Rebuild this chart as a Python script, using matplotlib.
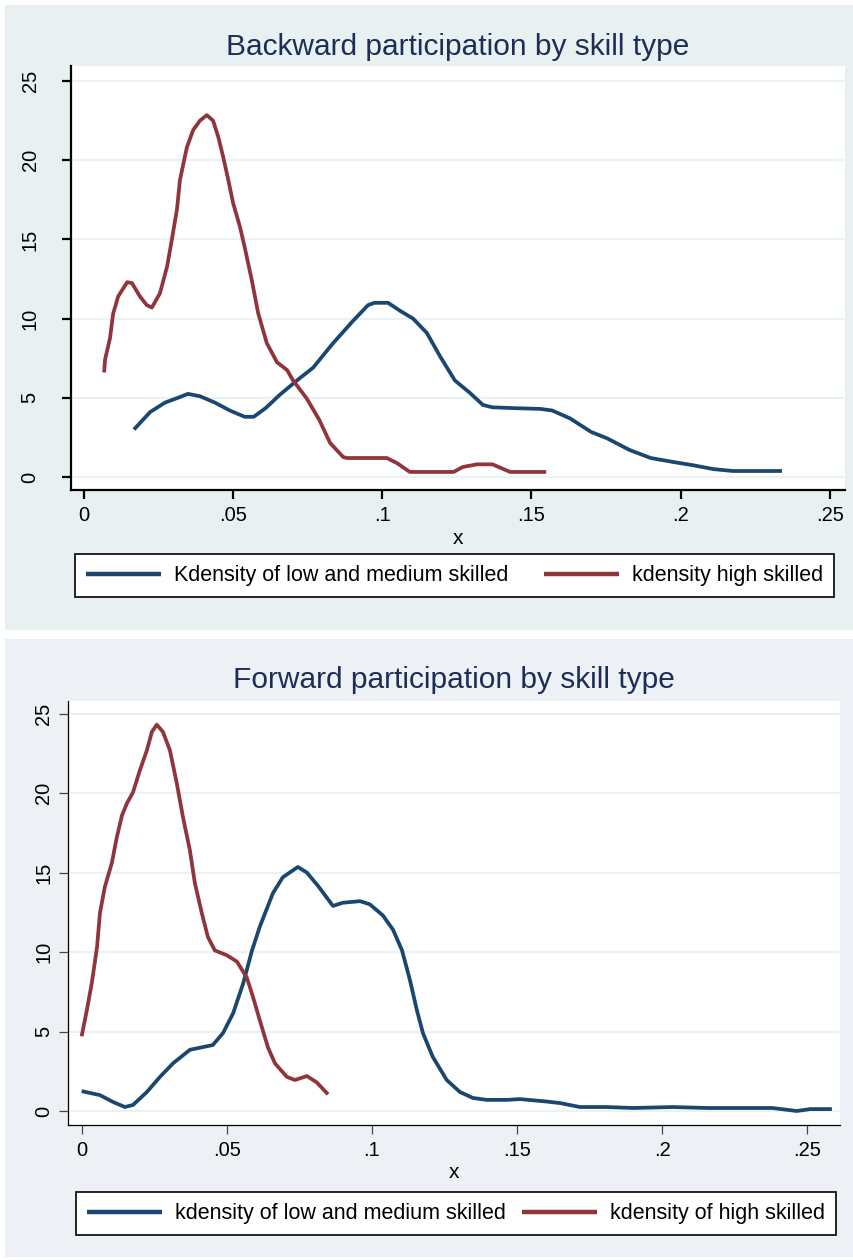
import matplotlib
matplotlib.use("Agg")
import matplotlib.pyplot as plt
from matplotlib.patches import Rectangle
from matplotlib import font_manager

# ---- data: kernel density estimates, backward participation ----
bwd_low_x = [0.0169, 0.0223, 0.0273, 0.0323, 0.0350, 0.0390, 0.0440, 0.0490, 0.0540,
             0.0570, 0.0610, 0.0658, 0.0725, 0.0769, 0.0836, 0.0900, 0.0953, 0.0975,
             0.1020, 0.1060, 0.1104, 0.1150, 0.1195, 0.1244, 0.1295, 0.1338, 0.1370,
             0.1440, 0.1530, 0.1570, 0.1630, 0.1700, 0.1753, 0.1830, 0.1900, 0.1975,
             0.2040, 0.2110, 0.2175, 0.2340]
bwd_low_y = [3.0, 4.1, 4.7, 5.05, 5.25, 5.1, 4.7, 4.2, 3.8,
             3.8, 4.35, 5.2, 6.25, 6.9, 8.45, 9.8, 10.85, 11.0,
             11.0, 10.5, 10.0, 9.1, 7.6, 6.1, 5.3, 4.55, 4.4,
             4.35, 4.3, 4.2, 3.7, 2.85, 2.45, 1.7, 1.2, 0.95,
             0.75, 0.5, 0.38, 0.38]

bwd_high_x = [0.0069, 0.0072, 0.0089, 0.0099, 0.0116, 0.0146, 0.0162, 0.0189, 0.0212,
              0.0229, 0.0256, 0.0280, 0.0296, 0.0313, 0.0323, 0.0346, 0.0367, 0.0390,
              0.0413, 0.0434, 0.0451, 0.0468, 0.0485, 0.0501, 0.0524, 0.0540, 0.0564,
              0.0585, 0.0614, 0.0648, 0.0682, 0.0702, 0.0748, 0.0790, 0.0826, 0.0870,
              0.0882, 0.1016, 0.1050, 0.1093, 0.1240, 0.1270, 0.1318, 0.1370, 0.1429,
              0.1550]
bwd_high_y = [6.6, 7.4, 8.8, 10.3, 11.4, 12.3, 12.25, 11.4, 10.85,
              10.7, 11.6, 13.3, 15.0, 16.9, 18.75, 20.8, 21.9, 22.5,
              22.85, 22.5, 21.5, 20.2, 18.75, 17.3, 15.8, 14.5, 12.4,
              10.35, 8.45, 7.25, 6.75, 6.1, 4.95, 3.6, 2.15, 1.26,
              1.2, 1.2, 0.88, 0.32, 0.32, 0.63, 0.8, 0.8, 0.32,
              0.32]

# ---- data: kernel density estimates, forward participation ----
fwd_low_x = [0.0000, 0.0063, 0.0108, 0.0149, 0.0177, 0.0225, 0.0270, 0.0315, 0.0373,
             0.0452, 0.0487, 0.0522, 0.0557, 0.0587, 0.0614, 0.0659, 0.0693, 0.0745,
             0.0776, 0.0815, 0.0866, 0.0900, 0.0959, 0.0993, 0.1038, 0.1073, 0.1104,
             0.1131, 0.1155, 0.1176, 0.1210, 0.1258, 0.1303, 0.1348, 0.1396, 0.1465,
             0.1510, 0.1600, 0.1648, 0.1717, 0.1810, 0.1900, 0.2038, 0.2155, 0.2380,
             0.2464, 0.2510, 0.2585]
fwd_low_y = [1.25, 1.0, 0.57, 0.25, 0.38, 1.2, 2.15, 3.0, 3.85,
             4.15, 4.9, 6.15, 8.05, 10.1, 11.6, 13.7, 14.7, 15.35,
             15.0, 14.15, 12.9, 13.1, 13.2, 13.0, 12.3, 11.4, 10.1,
             8.25, 6.35, 4.9, 3.4, 1.95, 1.2, 0.82, 0.7, 0.7,
             0.75, 0.6, 0.5, 0.25, 0.25, 0.19, 0.25, 0.19, 0.19,
             0.0, 0.12, 0.12]

fwd_high_x = [0.0000, 0.0018, 0.0035, 0.0053, 0.0063, 0.0080, 0.0104, 0.0121, 0.0139,
              0.0156, 0.0177, 0.0201, 0.0225, 0.0242, 0.0259, 0.0280, 0.0304, 0.0328,
              0.0349, 0.0373, 0.0390, 0.0414, 0.0435, 0.0459, 0.0500, 0.0535, 0.0569,
              0.0590, 0.0614, 0.0642, 0.0666, 0.0707, 0.0735, 0.0776, 0.0810, 0.0849]
fwd_high_y = [4.7, 6.35, 8.05, 10.3, 12.45, 14.1, 15.6, 17.2, 18.6,
              19.35, 20.05, 21.45, 22.7, 23.85, 24.3, 23.85, 22.7, 20.6,
              18.5, 16.4, 14.35, 12.45, 10.95, 10.1, 9.8, 9.4, 8.4,
              7.2, 5.7, 4.0, 3.0, 2.15, 1.95, 2.2, 1.8, 1.05]

x_ticks = [0, 0.05, 0.10, 0.15, 0.20, 0.25]
x_tick_labels = ["0", ".05", ".1", ".15", ".2", ".25"]
y_ticks = [0, 5, 10, 15, 20, 25]
y_tick_labels = ["0", "5", "10", "15", "20", "25"]

NAVY = "#1a476f"
MAROON = "#90353b"
GRID = "#eaf2f3"
TITLE = "#1e2d55"

installed = {f.name for f in font_manager.fontManager.ttflist}
FONT = "Liberation Sans Narrow" if "Liberation Sans Narrow" in installed else "Liberation Sans"
plt.rcParams["font.family"] = [FONT, "DejaVu Sans"]

W, H = 854, 1260
fig = plt.figure(figsize=(W / 100, H / 100), dpi=100, facecolor="white")


def fx(px):
    return px / W


def fy(py):
    return 1 - py / H


def panel(bg, box, ax_box, xlim, ylim, title, title_y, xlabel_y, series, legend_box,
          axis_lw, tick_color, ypad):
    x0, y0, x1, y1 = box
    fig.patches.append(Rectangle((fx(x0), fy(y1)), fx(x1 - x0), (y1 - y0) / H,
                                 transform=fig.transFigure, facecolor=bg,
                                 edgecolor="none", zorder=-5))
    l, t, r, b = ax_box
    ax = fig.add_axes([fx(l), fy(b), fx(r - l), (b - t) / H])
    ax.set_zorder(2)
    ax.set_facecolor("white")
    ax.set_xlim(*xlim)
    ax.set_ylim(*ylim)
    for yv in y_ticks:
        ax.axhline(yv, color=GRID, lw=1.6, zorder=1)
    handles = []
    for xs, ys, col, lab in series:
        h, = ax.plot(xs, ys, color=col, lw=2.7, solid_capstyle="butt",
                     solid_joinstyle="round", zorder=3, label=lab)
        handles.append(h)
    ax.set_xticks(x_ticks)
    ax.set_xticklabels(x_tick_labels)
    ax.set_yticks(y_ticks)
    ax.set_yticklabels(y_tick_labels, rotation=90, va="center")
    ax.tick_params(axis="both", direction="out", length=6.5, width=axis_lw,
                   color=tick_color, labelsize=14.5, labelcolor="black")
    ax.tick_params(axis="x", pad=5)
    ax.tick_params(axis="y", pad=ypad)
    for s in ("top", "right"):
        ax.spines[s].set_visible(False)
    for s in ("left", "bottom"):
        ax.spines[s].set_color("black")
        ax.spines[s].set_linewidth(axis_lw)
    fig.text(fx((l + r) / 2), fy(title_y), title, ha="center", va="center",
             fontsize=21.5, color=TITLE)
    fig.text(fx((l + r) / 2), fy(xlabel_y), "x", ha="center", va="center",
             fontsize=15, color="black")
    lx0, ly0, lx1, ly1 = legend_box
    leg = fig.legend(handles=handles, loc="lower left", ncol=2, mode="expand",
                     bbox_to_anchor=(fx(lx0), fy(ly1), fx(lx1 - lx0), (ly1 - ly0) / H),
                     bbox_transform=fig.transFigure, frameon=True, fancybox=False,
                     edgecolor="black", framealpha=1, fontsize=15.5,
                     handlelength=3.5, handletextpad=0.6, borderaxespad=0,
                     borderpad=0.5)
    leg.get_frame().set_linewidth(1.2)
    for ln in leg.get_lines():
        ln.set_linewidth(3.2)
    return ax


panel("#e8f0f2", (5, 5, 854, 630), (71, 66, 845, 490),
      (-0.0042, 0.2551), (-0.82, 25.95),
      "Backward participation by skill type", 47, 538,
      [(bwd_low_x, bwd_low_y, NAVY, "Kdensity of low and medium skilled"),
       (bwd_high_x, bwd_high_y, MAROON, "kdensity high skilled")],
      (75, 556, 834, 597), 1.6, "black", 16)

panel("#edf1f6", (5, 639, 854, 1257), (68, 701, 840, 1125),
      (-0.0047, 0.2613), (-0.88, 25.79),
      "Forward participation by skill type", 680, 1172,
      [(fwd_low_x, fwd_low_y, NAVY, "kdensity of low and medium skilled"),
       (fwd_high_x, fwd_high_y, MAROON, "kdensity of high skilled")],
      (76, 1196, 836, 1235), 0.9, "#444444", 4)

fig.savefig("out.png", dpi=100, facecolor="white")
